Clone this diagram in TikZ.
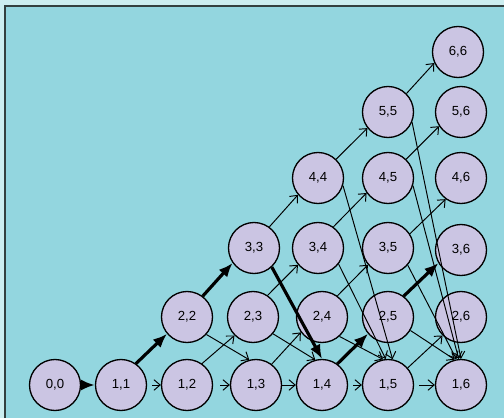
\documentclass[tikz,border=0pt]{standalone}
\usepackage{fontspec}
\setmainfont{Liberation Sans}
\usetikzlibrary{arrows.meta}
\definecolor{pagebg}{HTML}{CCEEF0}
\definecolor{panelbg}{HTML}{93D6DF}
\definecolor{cellfill}{HTML}{CBC5E3}
\definecolor{framegray}{HTML}{33403F}
\begin{document}
\begin{tikzpicture}[
        cell/.style={circle, draw, fill=cellfill, line width=0.75pt, minimum size=1.02cm, inner sep=0pt},
        link/.style={-{Straight Barb[length=3.5pt,width=6pt]}, line width=0.55pt},
        best/.style={-{Latex[length=8pt,width=6.5pt]}, line width=1.8pt},
        every node/.style={font=\fontsize{7.5}{9}\selectfont}
        ]
      \useasboundingbox (0,0) rectangle (10.08,8.36);
      \fill[pagebg] (0,0) rectangle (10.08,8.36);
      \fill[panelbg] (0.10,0) rectangle (10.08,8.24);
      \draw[framegray, line width=1.1pt] (0.10,0) -- (0.10,8.24) -- (10.08,8.24);
      % cells
      \node[cell] (n00) at (1.10,0.66) {0,0};
      \node[cell] (n11) at (2.42,0.66) {1,1};
      \node[cell] (n12) at (3.74,0.66) {1,2};
      \node[cell] (n13) at (5.12,0.66) {1,3};
      \node[cell] (n14) at (6.44,0.66) {1,4};
      \node[cell] (n15) at (7.76,0.66) {1,5};
      \node[cell] (n16) at (9.22,0.66) {1,6};
      \node[cell] (n22) at (3.74,2.02) {2,2};
      \node[cell] (n23) at (5.06,2.02) {2,3};
      \node[cell] (n24) at (6.44,2.02) {2,4};
      \node[cell] (n25) at (7.76,2.02) {2,5};
      \node[cell] (n26) at (9.22,2.02) {2,6};
      \node[cell] (n33) at (5.08,3.40) {3,3};
      \node[cell] (n34) at (6.36,3.40) {3,4};
      \node[cell] (n35) at (7.76,3.40) {3,5};
      \node[cell] (n36) at (9.22,3.36) {3,6};
      \node[cell] (n44) at (6.36,4.80) {4,4};
      \node[cell] (n45) at (7.76,4.80) {4,5};
      \node[cell] (n46) at (9.22,4.80) {4,6};
      \node[cell] (n55) at (7.76,6.12) {5,5};
      \node[cell] (n56) at (9.22,6.12) {5,6};
      \node[cell] (n66) at (9.16,7.32) {6,6};
      % along the bottom row
      \draw[best] (n00) -- (n11);
      \draw[link, shorten <=3pt] (n11) -- (n12);
      \draw[link, shorten <=4pt] (n12) -- (n13);
      \draw[link] (n13) -- (n14);
      \draw[link, shorten <=3pt] (n14) -- (n15);
      \draw[link, shorten <=3pt] (n15) -- (n16);
      % up and to the right
      \draw[best] (n11.55) -- (n22.220);
      \draw[best] (n22.53) -- (n33.215);
      \draw[link] (n33.54) -- (n44.220);
      \draw[link] (n44.46) -- (n55.218);
      \draw[link] (n55.45) -- (n66.205);
      \draw[link] (n12.55) -- (n23.225);
      \draw[link] (n23.56) -- (n34.220);
      \draw[link] (n34.54) -- (n45.215);
      \draw[link] (n45.46) -- (n56.213);
      \draw[link] (n13.53) -- (n24.216);
      \draw[link] (n24.54) -- (n35.220);
      \draw[link] (n35.33) -- (n46.234);
      \draw[best] (n14.54) -- (n25.220);
      \draw[best] (n25.53) -- (n36.210);
      \draw[link] (n15.41) -- (n26.225);
      % back down to the bottom row
      \draw[link] (n22.-42) -- (n13.105);
      \draw[link] (n23.-40) -- (n14.105);
      \draw[best] (n33.-47) -- (n14.north);
      \draw[link] (n24.-48) -- (n15.101);
      \draw[link] (n34.-38) -- (n15.95);
      \draw[link] (n44.-17) -- (n15.80);
      \draw[link] (n25.-31) -- (n16.104);
      \draw[link] (n35.-41) -- (n16.100);
      \draw[link] (n45.-17) -- (n16.95);
      \draw[link] (n55.-23) -- (n16.north);
    \end{tikzpicture}
\end{document}
